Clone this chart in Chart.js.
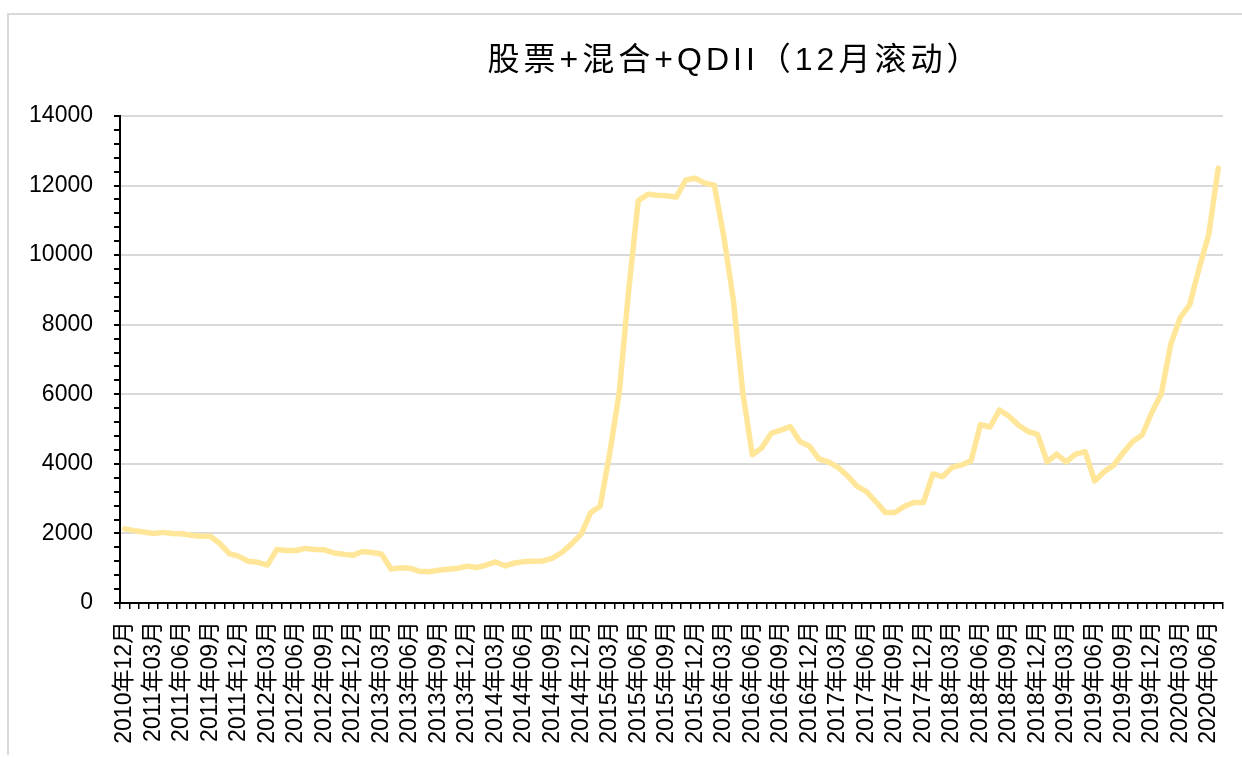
<!DOCTYPE html>
<html>
<head>
<meta charset="utf-8">
<script src="https://cdn.jsdelivr.net/npm/chart.js@4/dist/chart.umd.min.js"></script>
<style>
  html, body { margin: 0; padding: 0; background: #fff; }
  #wrap { position: relative; width: 1242px; height: 758px; overflow: hidden; }
  #frame { position: absolute; left: 7px; top: 13px; width: 1300px; height: 742px;
           border-top: 2px solid #d9d9d9; border-left: 2px solid #d9d9d9; box-sizing: border-box; }
  canvas { position: absolute; left: 0; top: 0; }
</style>
</head>
<body>
<div id="wrap">
  <div id="frame"></div>
  <canvas id="c" width="1242" height="758"></canvas>
</div>
<script>
const titleText = '股票+混合+QDII（12月滚动）';

const categories = [
  '2010年12月',
  '2011年01月','2011年02月','2011年03月','2011年04月','2011年05月','2011年06月','2011年07月','2011年08月','2011年09月','2011年10月','2011年11月','2011年12月',
  '2012年01月','2012年02月','2012年03月','2012年04月','2012年05月','2012年06月','2012年07月','2012年08月','2012年09月','2012年10月','2012年11月','2012年12月',
  '2013年01月','2013年02月','2013年03月','2013年04月','2013年05月','2013年06月','2013年07月','2013年08月','2013年09月','2013年10月','2013年11月','2013年12月',
  '2014年01月','2014年02月','2014年03月','2014年04月','2014年05月','2014年06月','2014年07月','2014年08月','2014年09月','2014年10月','2014年11月','2014年12月',
  '2015年01月','2015年02月','2015年03月','2015年04月','2015年05月','2015年06月','2015年07月','2015年08月','2015年09月','2015年10月','2015年11月','2015年12月',
  '2016年01月','2016年02月','2016年03月','2016年04月','2016年05月','2016年06月','2016年07月','2016年08月','2016年09月','2016年10月','2016年11月','2016年12月',
  '2017年01月','2017年02月','2017年03月','2017年04月','2017年05月','2017年06月','2017年07月','2017年08月','2017年09月','2017年10月','2017年11月','2017年12月',
  '2018年01月','2018年02月','2018年03月','2018年04月','2018年05月','2018年06月','2018年07月','2018年08月','2018年09月','2018年10月','2018年11月','2018年12月',
  '2019年01月','2019年02月','2019年03月','2019年04月','2019年05月','2019年06月','2019年07月','2019年08月','2019年09月','2019年10月','2019年11月','2019年12月',
  '2020年01月','2020年02月','2020年03月','2020年04月','2020年05月','2020年06月','2020年07月'
];

const values2010_2011 = [2130, 2080,2040,2000,2030,2000,1990,1950,1920,1920,1710,1420,1340];
const values2012 = [1200,1170,1090,1540,1510,1510,1570,1540,1530,1440,1400,1370];
const values2013 = [1480,1450,1410,980,1010,1000,910,900,940,970,1000,1060];
const values2014 = [1020,1090,1180,1070,1150,1190,1200,1210,1290,1460,1700,1980];
const values2015 = [2600,2780,4300,6040,9000,11560,11750,11720,11710,11670,12160,12210];
const values2016 = [12070,12010,10540,8720,6040,4260,4460,4880,4970,5070,4640,4510];
const values2017 = [4140,4060,3900,3660,3360,3200,2910,2600,2600,2780,2890,2890];
const values2018 = [3710,3630,3900,3970,4090,5130,5060,5550,5370,5110,4930,4850];
const values2019 = [4060,4280,4060,4280,4350,3510,3770,3960,4320,4640,4830,5470];
const values2020 = [6000,7430,8200,8580,9630,10590,12500];

const seriesValues = [].concat(values2010_2011, values2012, values2013, values2014,
  values2015, values2016, values2017, values2018, values2019, values2020);

const yMin = 0, yMax = 14000, yMajorStep = 2000, yMinorStep = 400;
const labelEvery = 3;

const latinCjk = "'Liberation Sans', Arial, 'Noto Sans CJK SC', sans-serif";

const titlePlugin = {
  id: 'customTitle',
  afterDraw(chart) {
    const ctx = chart.ctx;
    ctx.save();
    ctx.fillStyle = '#000';
    ctx.font = "32px " + latinCjk;
    ctx.textAlign = 'center';
    ctx.textBaseline = 'middle';
    ctx.letterSpacing = '4px';
    ctx.fillText(titleText, 735, 61);
    ctx.restore();
  }
};

new Chart(document.getElementById('c'), {
  type: 'line',
  data: {
    labels: categories,
    datasets: [{
      data: seriesValues,
      borderColor: '#FFE699',
      borderWidth: 5.5,
      pointRadius: 0,
      tension: 0,
      borderJoinStyle: 'round',
      borderCapStyle: 'round',
      fill: false
    }]
  },
  options: {
    responsive: false,
    animation: false,
    devicePixelRatio: 1,
    layout: { padding: { left: 0, top: 116, right: 19, bottom: 0 } },
    plugins: { legend: { display: false }, title: { display: false }, tooltip: { enabled: false } },
    scales: {
      x: {
        offset: true,
        grid: { offset: true, drawOnChartArea: false, tickColor: '#000', tickLength: 6, lineWidth: 1.5 },
        border: { color: '#000', width: 2 },
        ticks: {
          autoSkip: false,
          maxRotation: 90, minRotation: 90,
          padding: 12,
          color: '#000',
          font: { family: latinCjk, size: 23 },
          callback: function(v, i) { return i % labelEvery === 0 ? this.getLabelForValue(v) : ''; }
        },
        afterFit(scale) {
          scale.height = 758 - 603;
          scale.paddingLeft = 0;
          scale.paddingRight = 0;
        }
      },
      y: {
        min: yMin, max: yMax,
        grid: {
          color: (c) => (c.tick && c.tick.value % yMajorStep === 0) ? '#d9d9d9' : 'rgba(0,0,0,0)',
          tickColor: '#000', tickLength: 6, lineWidth: 2
        },
        border: { color: '#000', width: 2 },
        ticks: {
          stepSize: yMinorStep,
          autoSkip: false,
          padding: 21,
          color: '#000',
          font: { family: latinCjk, size: 23 },
          callback: (v) => (v % yMajorStep === 0 ? String(v) : '')
        },
        afterFit(scale) { scale.width = 120; }
      }
    }
  },
  plugins: [titlePlugin]
});
</script>
</body>
</html>
